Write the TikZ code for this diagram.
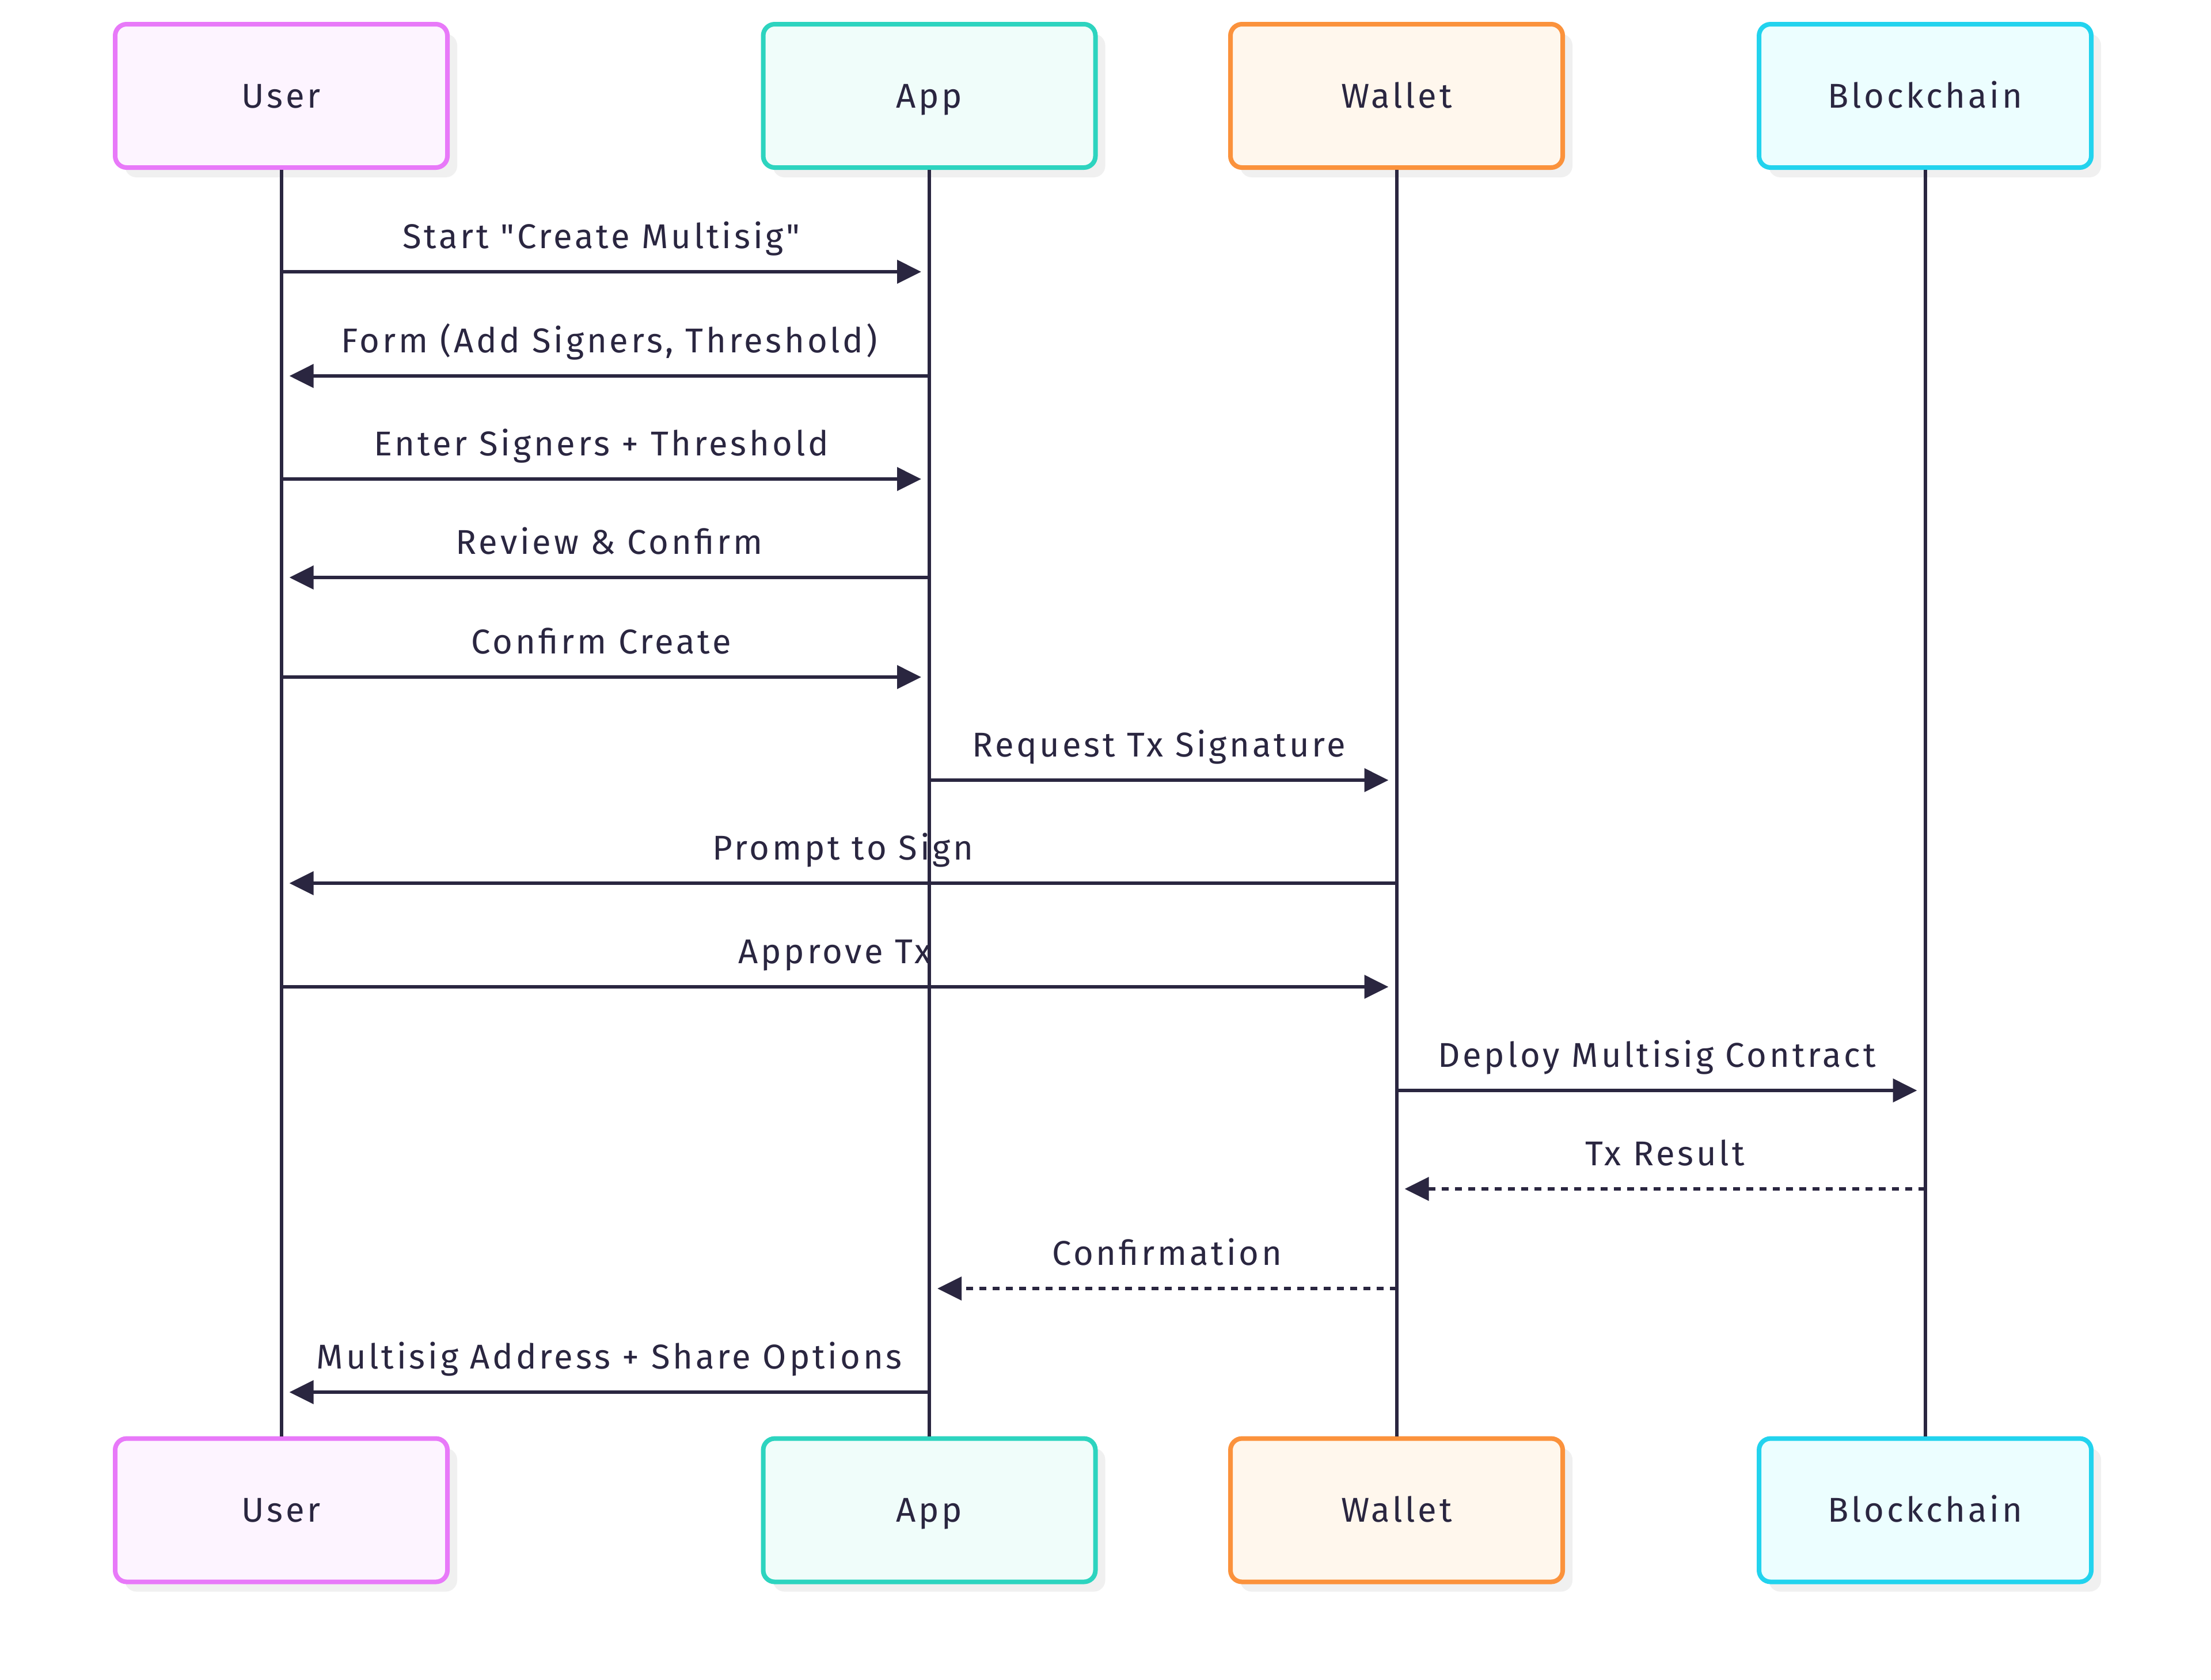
\documentclass[tikz,border=0pt]{standalone}
\usepackage{fontspec}
\setmainfont{Fira Sans}[LetterSpace=8, Ligatures=TeXOff]
\usetikzlibrary{calc,arrows.meta,shadows}
\definecolor{ink}{HTML}{2A2640}
\definecolor{userline}{HTML}{E879F9}
\definecolor{userfill}{HTML}{FDF4FF}
\definecolor{appline}{HTML}{2DD4BF}
\definecolor{appfill}{HTML}{F0FDFA}
\definecolor{walletline}{HTML}{FB923C}
\definecolor{walletfill}{HTML}{FFF7ED}
\definecolor{chainline}{HTML}{22D3EE}
\definecolor{chainfill}{HTML}{ECFEFF}

\begin{document}
\begin{tikzpicture}[actor/.style={rectangle, rounded corners=0.2cm, draw=#1line, fill=#1fill, line width=0.08cm, minimum width=5.77cm, minimum height=2.49cm, text=ink, font=\fontsize{17}{20}\selectfont,
		text height=0.41cm, text depth=0cm,
		drop shadow={shadow xshift=0.17cm, shadow yshift=-0.17cm, fill=black!6, opacity=1}},
	life/.style={ink, line width=0.06cm},
	msg/.style={ink, line width=0.065cm, -{Triangle[length=0.42cm,width=0.4cm]}},
	reply/.style={msg, dash pattern=on 0.12cm off 0.11cm},
	lbl/.style={midway, anchor=base, yshift=0.41cm, text=ink, font=\fontsize{17}{20}\selectfont}]

		%canvas
		\fill[white] (0,0) rectangle (38.4,-29.17);
		\useasboundingbox (0,0) rectangle (38.4,-29.17);
		%participants, top and bottom
		\foreach \n/\x/\t in {user/4.885/User, app/16.14/App, wallet/24.255/Wallet, chain/33.435/Blockchain} {
			\node[actor=\n] at (\x,-1.665) (\n) {\t};
			\node[actor=\n] at (\x,-26.23) (\n b) {\t};
			\draw[life] (\n.south) -- (\n b.north);
		}
		%messages
		\foreach \y/\a/\b/\t/\s in {4.72/user/app/{Start "Create Multisig"}/msg,
			6.53/app/user/{Form (Add Signers, Threshold)}/msg,
			8.32/user/app/{Enter Signers + Threshold}/msg,
			10.03/app/user/{Review \& Confirm}/msg,
			11.76/user/app/{Confirm Create}/msg,
			13.55/app/wallet/{Request Tx Signature}/msg,
			15.34/wallet/user/{Prompt to Sign}/msg,
			17.14/user/wallet/{Approve Tx}/msg,
			18.94/wallet/chain/{Deploy Multisig Contract}/msg,
			20.65/chain/wallet/{Tx Result}/reply,
			22.38/wallet/app/{Confirmation}/reply,
			24.18/app/user/{Multisig Address + Share Options}/msg} {
			\coordinate (from) at (\a |- 0,-\y);
			\coordinate (to) at (\b |- 0,-\y);
			\draw[\s] (from) -- ($(to)!0.14cm!(from)$) node[lbl] {\t};
		}
	\end{tikzpicture}
\end{document}
